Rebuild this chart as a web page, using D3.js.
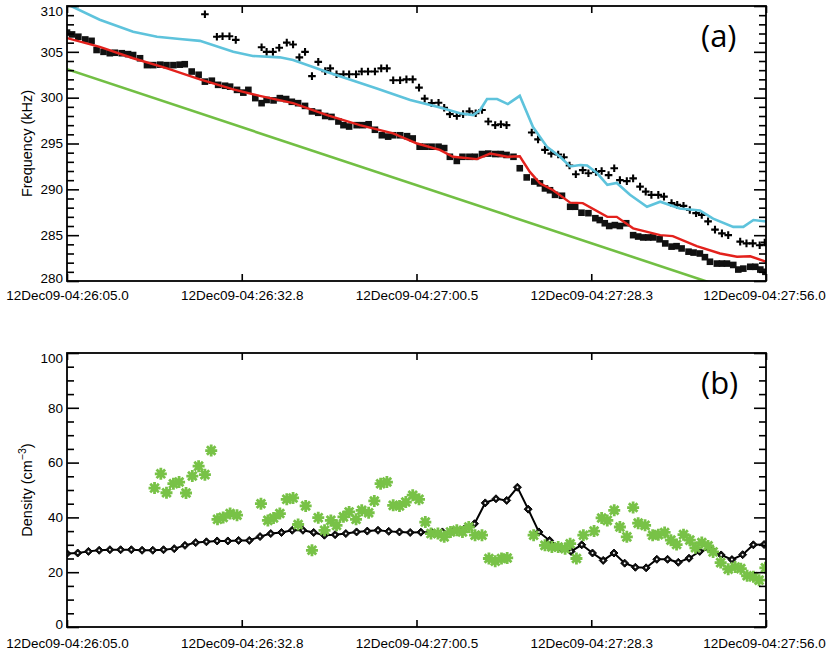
<!DOCTYPE html>
<html>
<head>
<meta charset="utf-8">
<script src="https://cdn.jsdelivr.net/npm/d3@7"></script>
<style>
  body { margin: 0; background: #fff; }
  text { font-family: "Liberation Sans", Arial, sans-serif; fill: #000; }
</style>
</head>
<body>
<script>
// time axis: seconds after 12Dec09-04:26:05.0
const xTickSec = [0, 27.75, 55.5, 83.25, 111];
const xTickLabels = ["12Dec09-04:26:05.0", "12Dec09-04:26:32.8", "12Dec09-04:27:00.5",
                     "12Dec09-04:27:28.3", "12Dec09-04:27:56.0"];

const freqTicks = [280, 285, 290, 295, 300, 305, 310];
const densTicks = [0, 20, 40, 60, 80, 100];

// panel (a): observed frequency (black squares), [sec, kHz]
const sqPoints = [[0.0,307.1],[0.8,306.9],[1.8,306.65],[2.9,306.35],[3.9,306.2],[4.7,305.2],[5.8,305.0],
  [6.8,304.85],[7.6,304.9],[8.7,304.85],[9.7,304.75],[10.5,304.65],[11.6,304.3],[12.7,303.55],[13.7,303.55],
  [14.8,303.6],[15.8,303.55],[16.9,303.55],[17.9,303.6],[18.7,303.65],[19.8,302.85],[20.9,302.5],[21.9,301.75],
  [23.0,301.85],[24.0,301.4],[25.1,301.3],[25.9,301.2],[27.0,300.85],[28.0,300.55],[28.8,300.85],[29.9,299.95],
  [30.9,299.4],[31.7,299.75],[32.8,299.7],[33.8,299.95],[34.8,299.85],[35.7,299.55],[36.7,299.4],[37.8,299.1],
  [38.9,298.5],[39.9,298.35],[41.0,298.0],[42.0,297.9],[43.1,297.4],[43.9,297.0],[44.8,296.85],[46.0,297.0],
  [47.0,297.0],[47.9,297.1],[48.9,296.5],[50.0,295.9],[51.0,295.75],[51.8,295.9],[52.9,295.9],[54.0,295.8],
  [54.9,295.55],[56.0,294.65],[56.9,294.65],[57.9,294.65],[59.0,294.65],[59.9,294.5],[60.8,293.55],[61.9,293.1],
  [62.8,293.55],[63.9,293.55],[64.8,293.55],[65.9,293.85],[66.9,293.9],[68.0,293.85],[68.9,293.85],[69.8,293.75],
  [70.9,293.55],[71.9,292.3],[73.0,291.3],[74.2,290.85],[75.1,290.65],[75.9,290.1],[76.7,289.9],[77.5,289.4],
  [78.6,289.3],[79.9,288.1],[80.7,288.1],[81.7,287.45],[82.8,287.4],[83.9,286.85],[84.6,286.65],[85.4,286.3],
  [86.1,286.0],[87.0,286.1],[87.8,286.0],[88.8,286.3],[89.9,285.0],[90.7,284.85],[91.5,284.75],[92.3,284.75],
  [93.1,284.75],[94.1,284.55],[95.0,284.1],[96.0,283.75],[96.8,283.8],[97.6,283.55],[98.7,283.2],[99.5,283.1],
  [100.5,283.0],[101.3,282.6],[102.1,282.1],[103.2,281.9],[104.0,281.9],[104.8,281.9],[105.8,281.75],
  [106.6,281.25],[107.4,281.35],[108.5,281.55],[109.3,281.55],[110.1,281.25],[110.9,281.0]];

// panel (a): second band (crosses), [sec, kHz]
const plusPoints = [[21.9,309.1],[23.8,306.65],[24.7,306.7],[25.8,306.7],[26.8,306.3],[30.9,305.5],[31.7,305.0],
  [32.7,305.0],[33.7,305.45],[34.9,306.0],[35.9,305.8],[36.9,304.4],[37.8,305.0],[38.9,302.35],[39.9,303.9],
  [41.0,302.9],[41.8,303.2],[42.8,302.55],[43.9,302.55],[44.8,302.55],[45.9,302.55],[46.8,302.85],[47.8,302.85],
  [48.9,302.85],[49.9,303.2],[50.8,303.2],[51.8,301.9],[52.9,301.9],[53.9,302.0],[54.9,302.0],[55.9,301.1],
  [56.8,299.9],[57.9,299.4],[59.0,299.45],[59.9,298.9],[60.8,298.2],[61.9,298.0],[62.9,298.2],[63.9,298.5],
  [64.9,298.3],[65.9,298.65],[66.9,297.4],[68.0,297.0],[68.9,297.1],[69.8,297.0],[73.8,296.2],[74.8,295.45],
  [75.9,294.3],[76.9,293.9],[78.0,293.8],[78.9,293.5],[79.8,292.6],[80.8,291.65],[81.9,292.1],[82.8,291.75],
  [84.0,291.9],[84.9,292.0],[86.0,291.55],[86.9,292.3],[87.8,291.0],[88.9,290.9],[89.9,291.2],[91.0,290.3],
  [91.9,289.75],[92.8,289.4],[93.9,289.4],[94.8,289.2],[96.0,288.5],[96.9,288.3],[97.9,288.2],[98.9,287.75],
  [99.9,287.4],[100.8,287.2],[101.8,286.5],[102.9,285.6],[104.0,285.2],[105.0,285.0],[106.9,284.3],
  [107.9,284.1],[108.9,284.1],[110.0,283.9],[110.8,284.2]];

// panel (a): model curves
const cyanLine = [[0,310.2],[5.2,308.5],[10.5,307.2],[14.3,306.65],[17.9,306.4],[21.1,306.2],[26.4,305.0],
  [29.5,304.55],[33.8,304.4],[35.9,304.1],[41.3,302.8],[49.2,301.0],[54.5,299.75],[58.8,299.0],[62.4,298.3],
  [64.5,298.1],[65.6,298.65],[66.7,299.85],[68.3,299.85],[70.0,299.3],[71.9,300.2],[74.0,296.8],[76.2,294.65],
  [78.3,293.55],[79.9,292.5],[81.5,292.65],[82.6,292.6],[84.2,291.75],[85.8,290.5],[87.3,290.7],[89.4,289.4],
  [92.1,288.1],[94.2,288.65],[97.3,287.9],[100.5,287.7],[102.6,286.8],[105.8,285.9],[107.4,285.9],
  [109.0,286.65],[111,286.5]];
const redLine = [[0,306.5],[5.2,305.55],[10.5,304.3],[15.9,303.2],[21.1,302.0],[26.4,300.9],[30.6,300.2],
  [35.9,299.4],[41.3,298.1],[46.5,297.0],[51.8,296.1],[55.6,295.0],[59.2,294.3],[61.3,293.55],[65.1,293.3],
  [67.2,293.9],[69.9,293.55],[71.9,293.6],[73.5,291.9],[75.1,290.65],[77.2,289.9],[79.9,288.55],[81.9,288.5],
  [85.8,287.0],[87.3,287.0],[89.9,285.75],[94.2,285.0],[96.2,284.9],[100.0,283.8],[103.7,283.0],[106.4,282.65],
  [108.5,282.7],[111,282.1]];
const greenLine = [[0,303.1],[111,277.8]];

// panel (b): model density (diamonds), one sample per step
const densStep = 1.703;
const densModel = [26.8,27.0,27.6,28.0,28.2,28.2,28.2,28.0,28.0,28.2,28.6,29.8,30.8,31.1,31.4,31.4,31.6,31.6,
  33.0,34.1,34.5,35.3,35.3,34.5,33.5,33.7,34.1,34.7,35.0,35.3,34.9,34.7,34.5,34.6,34.6,34.7,34.9,35.7,37.7,
  45.3,46.8,46.2,51.0,43.0,34.7,31.6,29.0,27.6,30.0,27.0,24.3,27.0,23.3,21.8,21.6,24.7,24.7,23.6,25.1,27.6,
  28.6,26.3,24.6,26.4,30.0,30.1];

// panel (b): measured density (green stars), [sec, cm^-3]
const densObs = [[13.9,50.7],[14.9,55.9],[15.8,49.0],[16.9,52.3],[17.8,52.9],[18.9,48.9],[19.9,55.1],[20.9,58.7],
  [21.9,55.6],[22.9,64.4],[23.9,39.3],[24.8,40.0],[25.9,41.4],[27.0,40.8],[30.8,45.0],[31.9,38.9],[32.8,39.8],
  [33.8,41.4],[34.9,46.6],[35.9,47.1],[36.7,37.4],[37.9,44.2],[38.9,28.0],[39.9,39.9],[40.9,35.3],[41.9,38.9],
  [42.8,37.1],[43.9,40.2],[44.8,42.0],[45.9,39.3],[46.8,42.6],[47.9,41.7],[48.8,46.0],[49.8,52.3],[50.8,52.9],
  [51.8,44.4],[52.8,44.2],[53.8,45.6],[54.9,48.1],[55.9,46.6],[56.9,38.3],[57.8,34.1],[58.9,34.1],[59.9,32.9],
  [60.9,34.7],[61.9,35.3],[62.8,34.7],[63.8,36.5],[64.8,33.5],[65.9,33.5],[67.0,25.0],[68.0,24.0],[69.0,25.0],
  [69.9,25.2],[74.1,33.5],[75.9,29.8],[77.0,29.2],[78.0,29.2],[79.1,28.6],[79.9,30.4],[80.9,25.0],[82.0,33.5],
  [83.7,35.0],[84.9,39.8],[85.8,38.9],[86.9,42.6],[87.8,36.5],[88.9,32.9],[89.9,43.6],[90.7,37.9],[91.8,37.1],
  [93.0,33.5],[93.9,33.7],[94.9,34.5],[95.9,31.7],[96.8,30.1],[97.9,33.7],[98.9,31.7],[99.8,28.9],[100.8,30.8],
  [101.8,29.6],[102.6,27.4],[103.8,23.5],[105.0,21.1],[106.1,21.9],[107.0,21.3],[108.0,18.7],[109.0,18.3],
  [109.9,17.1],[110.9,21.6]];

const W = 828, H = 653;
const left = 67, right = 766;

const svg = d3.select('body').append('svg')
    .attr('width', W)
    .attr('height', H);

const x = d3.scaleLinear().domain([0, 111]).range([left, right]);
const yA = d3.scaleLinear().domain([280, 310]).range([281, 6]);
const yB = d3.scaleLinear().domain([0, 100]).range([627, 353]);

// draws frame, ticks (inward, IDL style) and labels for one panel
function drawAxes(y, major, minorStep, title, tag, xPad) {
    const g = svg.append('g');
    const [y0, y1] = y.range();
    const [d0, d1] = y.domain();
    const minor = d3.range(d0, d1 + 0.001, minorStep).filter(v => !major.includes(v));

    const yl = g.append('g').attr('transform', `translate(${left},0)`)
        .call(d3.axisLeft(y).tickValues(major).tickSize(-12).tickPadding(4));
    g.append('g').attr('transform', `translate(${left},0)`)
        .call(d3.axisLeft(y).tickValues(minor).tickSize(-7).tickFormat(''));
    g.append('g').attr('transform', `translate(${right},0)`)
        .call(d3.axisRight(y).tickValues(major).tickSize(-12).tickFormat(''));
    g.append('g').attr('transform', `translate(${right},0)`)
        .call(d3.axisRight(y).tickValues(minor).tickSize(-7).tickFormat(''));
    const xb = g.append('g').attr('transform', `translate(0,${y0})`)
        .call(d3.axisBottom(x).tickValues(xTickSec).tickSize(-7).tickPadding(xPad)
            .tickFormat((d, i) => xTickLabels[i]));
    g.append('g').attr('transform', `translate(0,${y1})`)
        .call(d3.axisTop(x).tickValues(xTickSec).tickSize(-7).tickFormat(''));

    g.selectAll('.domain').remove();
    g.selectAll('.tick line').attr('stroke', '#000').attr('stroke-width', 1.6);
    g.selectAll('.tick text').style('font-size', '13.5px').attr('fill', '#000');
    // end labels sit a little inside the frame, as in the original
    yl.selectAll('.tick text').filter(d => d === d0).attr('y', -3);
    yl.selectAll('.tick text').filter(d => d === d1).attr('y', 5);
    xb.selectAll('.tick text').filter(d => d === 111).attr('x', -2);

    g.append('rect')
        .attr('x', left).attr('y', y1)
        .attr('width', right - left).attr('height', y0 - y1)
        .attr('fill', 'none').attr('stroke', '#000').attr('stroke-width', 1.8);

    // panel tag, (a) / (b)
    g.append('text')
        .attr('x', 701).attr('y', y1 + 41)
        .style('font-family', '"Open Sans", sans-serif')
        .style('font-size', '31px')
        .text(tag);

    const t = g.append('text')
        .attr('transform', `translate(32,${(y0 + y1) / 2}) rotate(-90)`)
        .attr('text-anchor', 'middle')
        .style('font-size', '14.5px');
    title(t);
}

// clip for both panels
const defs = svg.append('defs');
defs.append('clipPath').attr('id', 'clipA').append('rect')
    .attr('x', left).attr('y', 6).attr('width', right - left).attr('height', 275);
defs.append('clipPath').attr('id', 'clipB').append('rect')
    .attr('x', left).attr('y', 353).attr('width', right - left).attr('height', 274);

// ---------- panel (a)
const lineA = d3.line().x(d => x(d[0])).y(d => yA(d[1]));
const pa = svg.append('g').attr('clip-path', 'url(#clipA)');

pa.append('path').attr('d', lineA(greenLine))
    .attr('fill', 'none').attr('stroke', '#72bf44').attr('stroke-width', 2.6);

pa.selectAll('.sq')
    .data(sqPoints)
    .enter()
    .append('rect')
    .attr('class', 'sq')
    .attr('x', d => x(d[0]) - 3.3)
    .attr('y', d => yA(d[1]) - 3.3)
    .attr('width', 6.6).attr('height', 6.6)
    .attr('fill', '#111');

pa.append('path').attr('d', lineA(redLine))
    .attr('fill', 'none').attr('stroke', '#e3211c').attr('stroke-width', 2.4);

pa.selectAll('.plus')
    .data(plusPoints)
    .enter()
    .append('path')
    .attr('class', 'plus')
    .attr('transform', d => `translate(${x(d[0])},${yA(d[1])})`)
    .attr('d', 'M-3.8,0H3.8M0,-3.8V3.8')
    .attr('stroke', '#000').attr('stroke-width', 2.1);

pa.append('path').attr('d', lineA(cyanLine))
    .attr('fill', 'none').attr('stroke', '#5ec3dc').attr('stroke-width', 2.6);

drawAxes(yA, freqTicks, 1, t => t.text('Frequency (kHz)'), '(a)', 9);

// ---------- panel (b)
const pb = svg.append('g').attr('clip-path', 'url(#clipB)');
const lineB = d3.line().x((d, i) => x(i * densStep)).y(d => yB(d));

pb.append('path').attr('d', lineB(densModel))
    .attr('fill', 'none').attr('stroke', '#000').attr('stroke-width', 2);

const dia = pb.selectAll('.dia')
    .data(densModel)
    .enter()
    .append('g')
    .attr('class', 'dia')
    .attr('transform', (d, i) => `translate(${x(i * densStep)},${yB(d)})`);
dia.append('path')
    .attr('d', 'M0,-4L4,0L0,4L-4,0Z')
    .attr('fill', '#111').attr('stroke', '#000').attr('stroke-width', 1);
dia.append('circle').attr('r', 1).attr('fill', '#fff');

const starPath = 'M-6,0H6M0,-6V6M-4.3,-4.3L4.3,4.3M-4.3,4.3L4.3,-4.3';
pb.selectAll('.star')
    .data(densObs)
    .enter()
    .append('path')
    .attr('class', 'star')
    .attr('transform', d => `translate(${x(d[0])},${yB(d[1])})`)
    .attr('d', starPath)
    .attr('stroke', '#78c247').attr('stroke-width', 2.8);

drawAxes(yB, densTicks, 5, t => {
    t.append('tspan').text('Density (cm');
    t.append('tspan').attr('dy', -6).style('font-size', '10.5px').text('\u22123');
    t.append('tspan').attr('dy', 6).text(')');
}, '(b)', 11);
</script>
</body>
</html>
